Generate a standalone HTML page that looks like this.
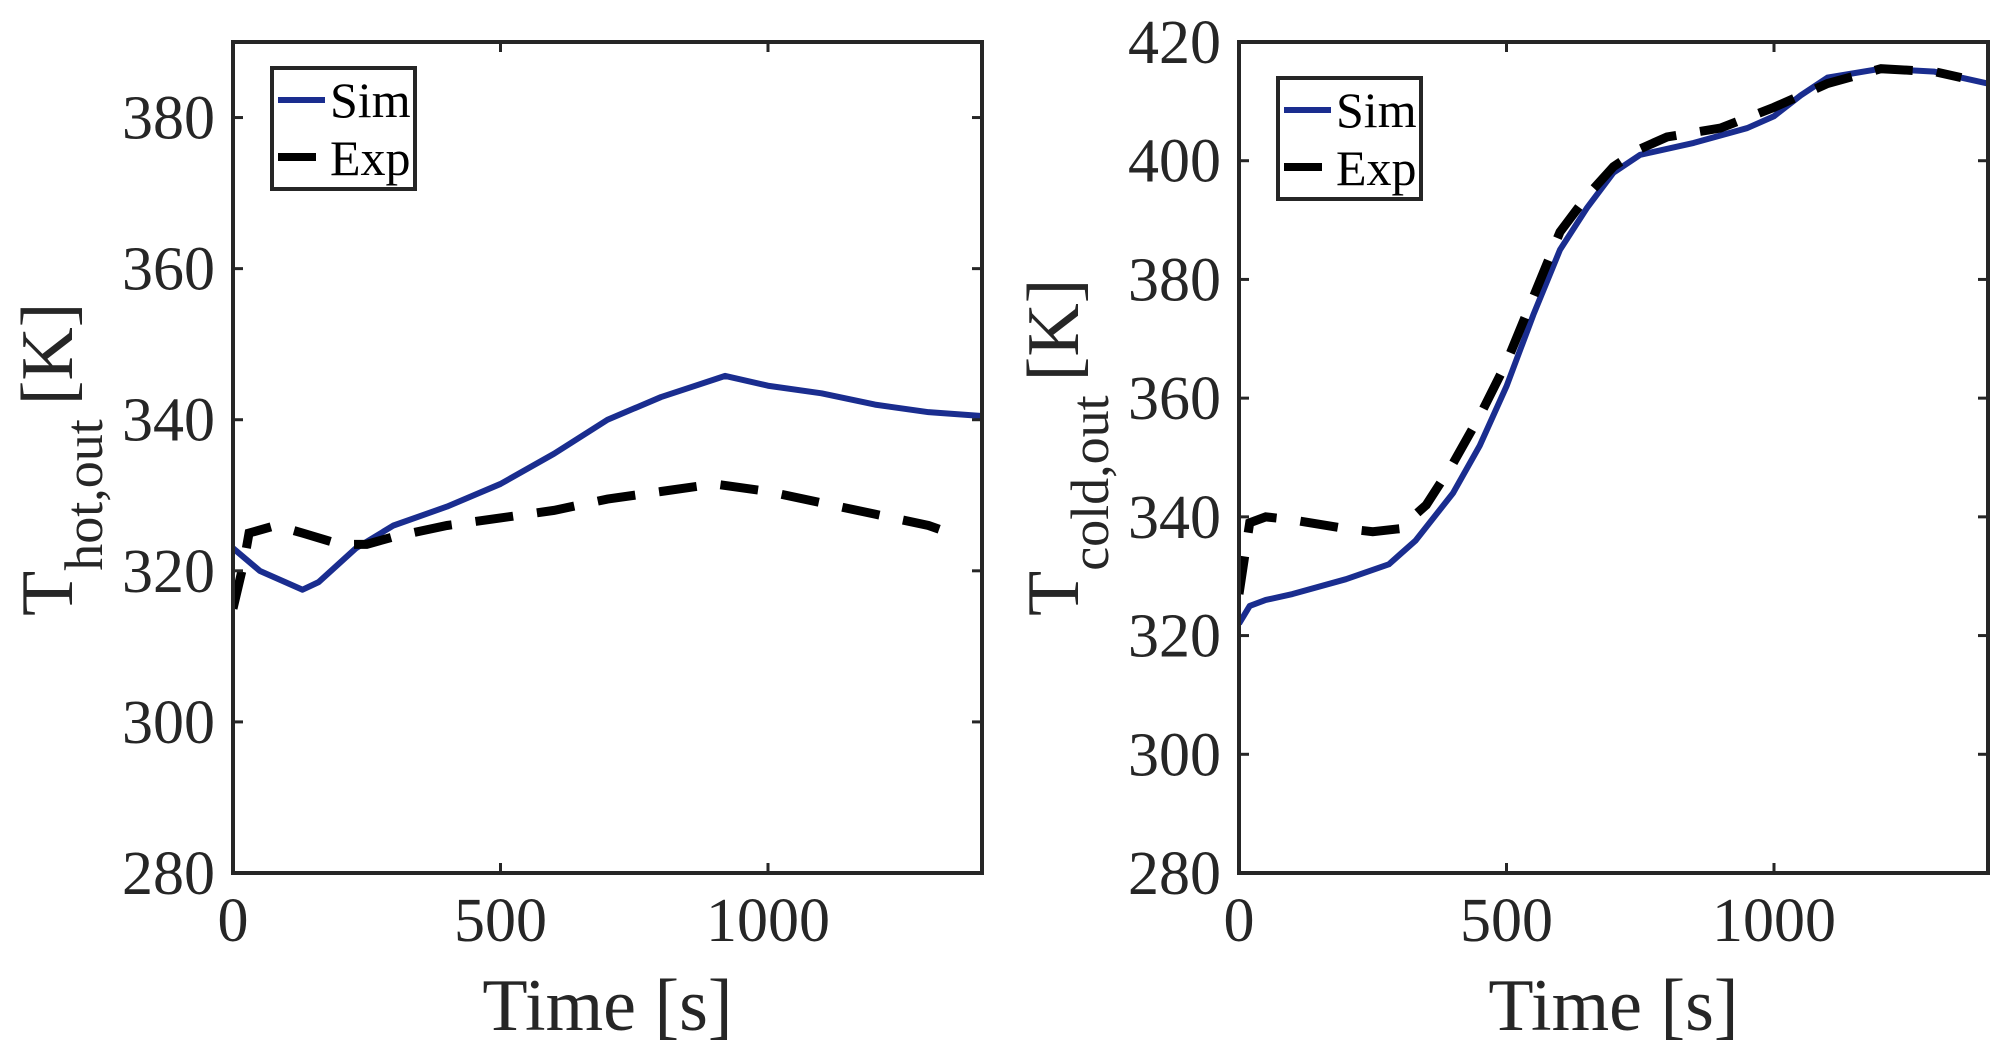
<!DOCTYPE html>
<html><head><meta charset="utf-8"><style>
html,body{margin:0;padding:0;background:#fff;}
svg{display:block;font-family:"Liberation Serif",serif;}
</style></head><body>
<svg id="chart" width="2012" height="1059" viewBox="0 0 2012 1059"></svg>
<script>
const xTicks=[0,500,1000];
const leftYTicks=[280,300,320,340,360,380];
const rightYTicks=[280,300,320,340,360,380,400,420];
const hotSimT=[0,50,130,160,230,300,400,500,600,700,800,920,1000,1100,1200,1300,1400];
const hotSimV=[323,320,317.5,318.5,323,326,328.5,331.5,335.5,340,343,345.8,344.5,343.5,342,341,340.5];
const hotExpT=[0,20,30,80,130,200,250,300,400,500,600,700,800,900,1000,1100,1200,1300,1320];
const hotExpV=[315,321,325,326,325,323.5,323.5,324.5,326,327,328,329.5,330.5,331.5,330.5,329,327.5,326,325.5];
const coldSimT=[0,20,50,100,200,280,330,400,450,500,550,600,650,700,750,850,950,1000,1050,1100,1200,1300,1400];
const coldSimV=[322,325,326,327,329.5,332,336,344,352,362,374,385,392,398,401,403,405.5,407.5,411,414,415.5,415,413];
const coldExpT=[0,10,20,50,100,200,250,300,350,400,450,500,550,600,650,700,750,800,900,1000,1100,1200,1300,1350];
const coldExpV=[327,333,339,340,339.5,338,337.5,338,342,349,357,366,377,388,394,399,402,404,405.5,409,413,415.5,415,414];

const NS="http://www.w3.org/2000/svg";
const svg=document.getElementById('chart');
function mk(tag,attrs,parent){const e=document.createElementNS(NS,tag);for(const k in attrs)e.setAttribute(k,attrs[k]);(parent||svg).appendChild(e);return e;}

function panel(off,ymin,ymax,yTicks,sub,st,sv,et,ev,pname,legDy){
  const L=233+off,R=982+off,T=42,B=873;
  const xs=t=>L+(t/1400)*(R-L);
  const ys=v=>B-(v-ymin)/(ymax-ymin)*(B-T);
  const g=mk('g',{});
  
  
  const clipId='clip'+off;
  const cp=mk('clipPath',{id:clipId},g);mk('rect',{x:L,y:T,width:R-L,height:B-T},cp);
  const simP=mk('polyline',{points:st.map((t,i)=>xs(t)+','+ys(sv[i])).join(' '),fill:'none',stroke:'#1a2d8f','stroke-width':6,'stroke-linejoin':'round','clip-path':'url(#'+clipId+')'},g);
  
  
  const expP=mk('polyline',{points:et.map((t,i)=>xs(t)+','+ys(ev[i])).join(' '),fill:'none',stroke:'#000','stroke-width':9,'stroke-dasharray':'38 24','clip-path':'url(#'+clipId+')'},g);
  
  
  const frame=mk('rect',{x:L,y:T,width:R-L,height:B-T,fill:'none',stroke:'#262626','stroke-width':4},g);
  
  
  xTicks.forEach(t=>{
    const x=xs(t);
    mk('line',{x1:x,y1:B,x2:x,y2:B-10,stroke:'#262626','stroke-width':3},g);
    mk('line',{x1:x,y1:T,x2:x,y2:T+10,stroke:'#262626','stroke-width':3},g);
    const tx=mk('text',{x:x,y:B+68,'text-anchor':'middle','font-size':62,fill:'#262626'},g);
    tx.textContent=t;
    
    
  });
  yTicks.forEach(v=>{
    const y=ys(v);
    mk('line',{x1:L,y1:y,x2:L+10,y2:y,stroke:'#262626','stroke-width':3},g);
    mk('line',{x1:R,y1:y,x2:R-10,y2:y,stroke:'#262626','stroke-width':3},g);
    const tx=mk('text',{x:L-18,y:y+21,'text-anchor':'end','font-size':62,fill:'#262626'},g);
    tx.textContent=v;
    
    
  });
  const xl=mk('text',{x:(L+R)/2,y:1030,'text-anchor':'middle','font-size':74,fill:'#262626'},g);
  xl.textContent='Time [s]';
  
  
  const yl=mk('text',{transform:'translate('+(72+off)+',616) rotate(-90)','font-size':74,fill:'#262626'},g);
  
  
  const t1=mk('tspan',{},yl);t1.textContent='T';
  const t2=mk('tspan',{dy:30,'font-size':54},yl);t2.textContent=sub;
  const t3=mk('tspan',{dy:-30,dx:14},yl);t3.textContent='[K]';
  const lg=mk('g',{transform:'translate('+off+','+legDy+')'},g);
  
  
  mk('rect',{x:272,y:68,width:143,height:121,fill:'#fff',stroke:'#262626','stroke-width':4},lg);
  const ls=mk('line',{x1:278,y1:100,x2:325,y2:100,stroke:'#1a2d8f','stroke-width':6},lg);
  
  
  const le=mk('line',{x1:278,y1:157,x2:316,y2:157,stroke:'#000','stroke-width':8},lg);
  
  
  const s=mk('text',{x:330,y:117,'font-size':50,fill:'#000'},lg);s.textContent='Sim';
  const e=mk('text',{x:330,y:175,'font-size':50,fill:'#000'},lg);e.textContent='Exp';
}
panel(0,280,390,leftYTicks,'hot,out',hotSimT,hotSimV,hotExpT,hotExpV,'hot-outlet-panel',0);
panel(1006,280,420,rightYTicks,'cold,out',coldSimT,coldSimV,coldExpT,coldExpV,'cold-outlet-panel',10);
</script>
</body></html>
